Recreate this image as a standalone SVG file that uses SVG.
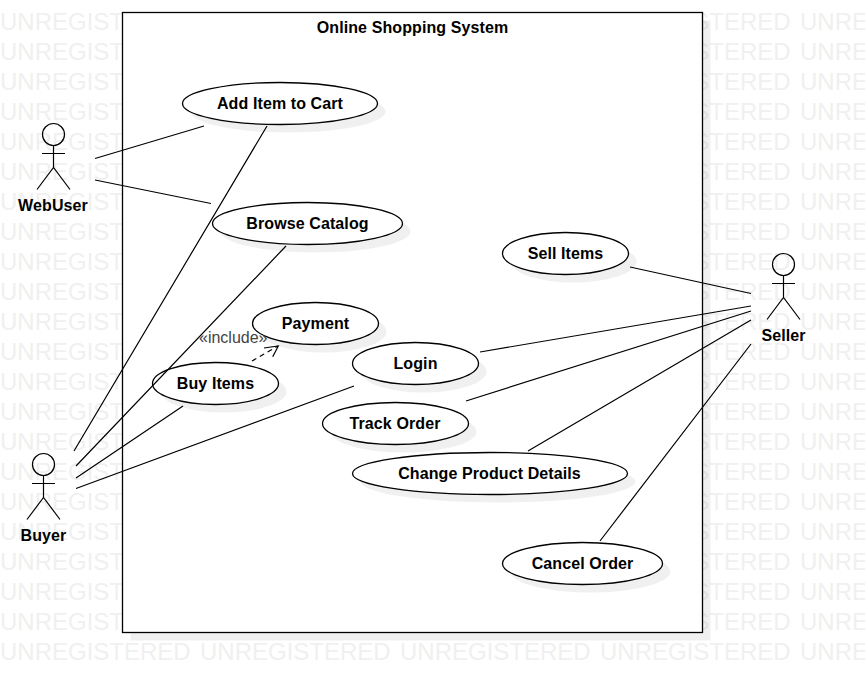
<svg xmlns="http://www.w3.org/2000/svg" width="865" height="682" viewBox="0 0 865 682">
<style>
text{font-family:"Liberation Sans",Arial,sans-serif}
.wm{font-size:24px;fill:#f0f0f0}
.l{font-size:16px;font-weight:bold;fill:#000;text-anchor:middle;letter-spacing:.1px}
.s{fill:#000;fill-opacity:.06;stroke:none}
.n{fill:#fff;stroke:#000;stroke-width:1.3}
.a{fill:none;stroke:#000;stroke-width:1.2}
.c{fill:none;stroke:#000;stroke-width:1.2}
</style>
<defs>
<text id="wmrow" class="wm">UNREGISTERED<tspan x="200">UNREGISTERED</tspan><tspan x="400">UNREGISTERED</tspan><tspan x="600">UNREGISTERED</tspan><tspan x="800">UNREGISTERED</tspan></text>
</defs>
<rect width="865" height="682" fill="#fff"/>
<g id="watermark">
<use href="#wmrow" y="30"/><use href="#wmrow" y="60"/><use href="#wmrow" y="90"/><use href="#wmrow" y="120"/><use href="#wmrow" y="150"/><use href="#wmrow" y="180"/><use href="#wmrow" y="210"/><use href="#wmrow" y="240"/><use href="#wmrow" y="270"/><use href="#wmrow" y="300"/><use href="#wmrow" y="330"/><use href="#wmrow" y="360"/><use href="#wmrow" y="390"/><use href="#wmrow" y="420"/><use href="#wmrow" y="450"/><use href="#wmrow" y="480"/><use href="#wmrow" y="510"/><use href="#wmrow" y="540"/><use href="#wmrow" y="570"/><use href="#wmrow" y="600"/><use href="#wmrow" y="630"/><use href="#wmrow" y="660"/>
</g>
<g id="system">
<rect class="s" x="130.500" y="20.500" width="580" height="620"/>
<rect class="n" x="122.500" y="12.500" width="580" height="620"/>
<text class="l" x="412.500" y="33">Online Shopping System</text>
</g>
<g id="uc-add"><ellipse class="s" cx="288" cy="111.500" rx="97.500" ry="21"/><ellipse class="n" cx="280" cy="103.500" rx="97.500" ry="21"/><text class="l" x="280" y="109">Add Item to Cart</text></g>
<g id="uc-browse"><ellipse class="s" cx="315.500" cy="231.500" rx="95" ry="21"/><ellipse class="n" cx="307.500" cy="223.500" rx="95" ry="21"/><text class="l" x="307.500" y="229">Browse Catalog</text></g>
<g id="uc-sell"><ellipse class="s" cx="573.500" cy="261.500" rx="63" ry="21"/><ellipse class="n" cx="565.500" cy="253.500" rx="63" ry="21"/><text class="l" x="565.500" y="259">Sell Items</text></g>
<g id="uc-payment"><ellipse class="s" cx="323.500" cy="331.500" rx="63" ry="21"/><ellipse class="n" cx="315.500" cy="323.500" rx="63" ry="21"/><text class="l" x="315.500" y="329">Payment</text></g>
<g id="uc-login"><ellipse class="s" cx="423.500" cy="371.500" rx="63" ry="21"/><ellipse class="n" cx="415.500" cy="363.500" rx="63" ry="21"/><text class="l" x="415.500" y="369">Login</text></g>
<g id="uc-buy"><ellipse class="s" cx="223.500" cy="391.500" rx="63" ry="21"/><ellipse class="n" cx="215.500" cy="383.500" rx="63" ry="21"/><text class="l" x="215.500" y="389">Buy Items</text></g>
<g id="uc-track"><ellipse class="s" cx="403.500" cy="431.500" rx="73" ry="21"/><ellipse class="n" cx="395.500" cy="423.500" rx="73" ry="21"/><text class="l" x="395" y="429">Track Order</text></g>
<g id="uc-change"><ellipse class="s" cx="498" cy="481.500" rx="137.500" ry="21"/><ellipse class="n" cx="490" cy="473.500" rx="137.500" ry="21"/><text class="l" x="489.500" y="479">Change Product Details</text></g>
<g id="uc-cancel"><ellipse class="s" cx="590.500" cy="571.500" rx="80" ry="21"/><ellipse class="n" cx="582.500" cy="563.500" rx="80" ry="21"/><text class="l" x="582.500" y="569">Cancel Order</text></g>
<g id="connectors">
<path class="c" d="M95 158.500L204 126M95 180L211 203.500M267 126L74 451M286 246L76 466M183 406L76 478M354 386L76 488.500M630 267L751 293.500M480 352L751 306M466 401L751 311M528 451L751 320M600 541L751 344"/>
<path class="c" stroke-dasharray="5 4" d="M252 361L278 346"/>
<path class="c" d="M264 348L278.300 346L272.700 356.700"/>
<text x="199" y="343" font-size="16" fill="#444">«include»</text>
</g>
<g id="actor-webuser"><circle class="a" cx="53.500" cy="134.500" r="11"/><path class="a" d="M42 153.500H65M53.500 145.500V167.500M37 189.500L53.500 167.500L70 189.500"/><text class="l" x="53" y="211">WebUser</text></g>
<g id="actor-buyer"><circle class="a" cx="43.500" cy="464.500" r="11"/><path class="a" d="M32 483.500H55M43.500 475.500V497.500M27 519.500L43.500 497.500L60 519.500"/><text class="l" x="43.500" y="541">Buyer</text></g>
<g id="actor-seller"><circle class="a" cx="783.500" cy="264.500" r="11"/><path class="a" d="M772 283.500H795M783.500 275.500V297.500M767 319.500L783.500 297.500L800 319.500"/><text class="l" x="783.500" y="341">Seller</text></g>
</svg>
